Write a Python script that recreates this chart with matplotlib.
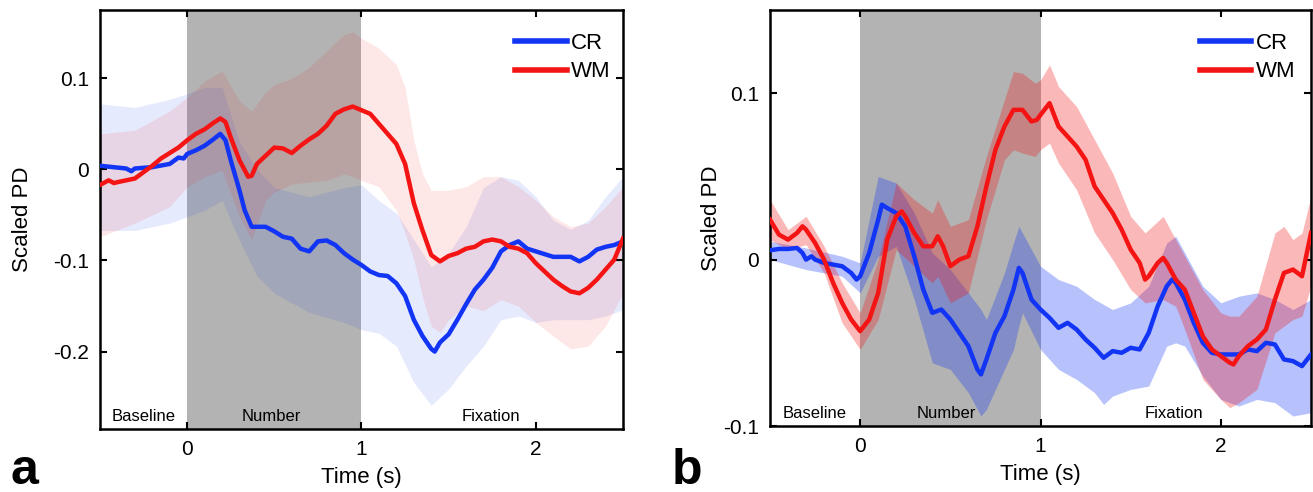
import matplotlib as mpl
mpl.use("Agg")
import matplotlib.pyplot as plt
import numpy as np

plt.rcParams['font.family'] = ['Liberation Sans', 'DejaVu Sans']

# ---------------- panel a ----------------
a_cr_t = [-0.5, -0.35, -0.32, -0.3, -0.2, -0.1, -0.05, -0.02, 0, 0.05, 0.1, 0.15, 0.19, 0.22, 0.25,
          0.3, 0.33, 0.37, 0.45, 0.5, 0.55, 0.6, 0.65, 0.7, 0.75, 0.8, 0.85, 0.9, 0.95, 1.0,
          1.05, 1.1, 1.15, 1.2, 1.25, 1.3, 1.35, 1.4, 1.42, 1.45, 1.5, 1.55, 1.6, 1.65, 1.7,
          1.75, 1.8, 1.85, 1.9, 1.95, 2.0, 2.1, 2.2, 2.25, 2.3, 2.35, 2.4, 2.45, 2.5]
a_cr_v = [0.004, 0.001, -0.002, 0.001, 0.0025, 0.006, 0.013, 0.012, 0.017, 0.021, 0.026, 0.033, 0.039, 0.032, 0.01,
          -0.023, -0.045, -0.063, -0.063, -0.068, -0.074, -0.076, -0.087, -0.09, -0.079, -0.078, -0.083, -0.092, -0.099, -0.105,
          -0.112, -0.116, -0.117, -0.125, -0.139, -0.165, -0.183, -0.197, -0.2, -0.19, -0.181, -0.165, -0.148, -0.132, -0.121,
          -0.108, -0.09, -0.083, -0.079, -0.087, -0.09, -0.096, -0.096, -0.101, -0.096, -0.088, -0.085, -0.083, -0.079]

a_wm_t = [-0.5, -0.45, -0.42, -0.4, -0.35, -0.3, -0.25, -0.2, -0.15, -0.1, -0.05, 0, 0.05, 0.1, 0.15,
          0.19, 0.22, 0.25, 0.3, 0.35, 0.37, 0.4, 0.45, 0.5, 0.55, 0.6, 0.65, 0.7, 0.75, 0.8,
          0.85, 0.9, 0.95, 1.0, 1.05, 1.1, 1.15, 1.2, 1.25, 1.3, 1.35, 1.4, 1.45, 1.5, 1.55,
          1.6, 1.65, 1.7, 1.75, 1.8, 1.85, 1.9, 1.95, 2.0, 2.05, 2.1, 2.15, 2.2, 2.25, 2.3,
          2.35, 2.4, 2.45, 2.5]
a_wm_v = [-0.017, -0.012, -0.015, -0.014, -0.012, -0.01, -0.003, 0.004, 0.012, 0.018, 0.024, 0.032, 0.039, 0.044, 0.051,
          0.056, 0.052, 0.035, 0.01, -0.008, -0.007, 0.006, 0.015, 0.024, 0.023, 0.018, 0.026, 0.033, 0.039, 0.048,
          0.061, 0.066, 0.069, 0.065, 0.061, 0.05, 0.039, 0.028, 0.006, -0.037, -0.067, -0.094, -0.101, -0.095, -0.092,
          -0.087, -0.085, -0.079, -0.077, -0.079, -0.085, -0.087, -0.092, -0.103, -0.112, -0.121, -0.128, -0.134, -0.136, -0.13,
          -0.121, -0.11, -0.099, -0.076]

a_cr_band_t = [-0.5, -0.3, -0.1, 0, 0.1, 0.2, 0.3, 0.4, 0.5, 0.7, 0.9, 1.0, 1.1, 1.2, 1.3,
               1.4, 1.5, 1.6, 1.7, 1.8, 1.9, 2.0, 2.1, 2.2, 2.3, 2.4, 2.5]
a_cr_hi = [0.072, 0.068, 0.077, 0.083, 0.09, 0.09, 0.03, 0.0, -0.02, -0.03, -0.02, -0.017, -0.034, -0.048, -0.077,
           -0.107, -0.092, -0.063, -0.02, -0.008, -0.012, -0.03, -0.056, -0.066, -0.056, -0.03, -0.008]
a_cr_lo = [-0.067, -0.067, -0.059, -0.052, -0.045, -0.034, -0.078, -0.117, -0.136, -0.157, -0.168, -0.176, -0.18, -0.194, -0.234,
           -0.259, -0.241, -0.216, -0.194, -0.165, -0.161, -0.168, -0.165, -0.165, -0.165, -0.161, -0.154]

a_wm_band_t = [-0.5, -0.3, -0.1, 0, 0.1, 0.2, 0.3, 0.37, 0.45, 0.5, 0.6, 0.7, 0.8, 0.9, 0.95,
               1.0, 1.1, 1.2, 1.25, 1.3, 1.35, 1.4, 1.45, 1.5, 1.6, 1.7, 1.8, 1.9, 2.0, 2.1,
               2.2, 2.3, 2.4, 2.5]
a_wm_hi = [0.039, 0.043, 0.064, 0.079, 0.097, 0.108, 0.075, 0.064, 0.085, 0.093, 0.1, 0.112, 0.13, 0.148, 0.151,
           0.144, 0.133, 0.115, 0.09, 0.032, -0.005, -0.023, -0.023, -0.023, -0.019, -0.008, -0.008, -0.019, -0.034, -0.052,
           -0.063, -0.059, -0.041, -0.019]
a_wm_lo = [-0.074, -0.059, -0.041, -0.019, -0.008, -0.001, -0.052, -0.077, -0.034, -0.025, -0.016, -0.014, -0.012, -0.005, -0.008,
           -0.012, -0.019, -0.045, -0.07, -0.099, -0.14, -0.172, -0.179, -0.165, -0.15, -0.155, -0.143, -0.15, -0.168, -0.183,
           -0.197, -0.194, -0.172, -0.136]

# ---------------- panel b ----------------
b_cr_t = [-0.5, -0.45, -0.4, -0.35, -0.32, -0.3, -0.27, -0.25, -0.2, -0.15, -0.1, -0.05, -0.02, 0, 0.05,
          0.1, 0.12, 0.15, 0.2, 0.25, 0.3, 0.35, 0.4, 0.45, 0.5, 0.55, 0.6, 0.65, 0.67, 0.7,
          0.75, 0.8, 0.85, 0.88, 0.9, 0.95, 1.0, 1.05, 1.1, 1.15, 1.2, 1.25, 1.3, 1.35, 1.4,
          1.45, 1.5, 1.55, 1.6, 1.65, 1.7, 1.73, 1.75, 1.8, 1.85, 1.9, 1.95, 2.0, 2.05, 2.1,
          2.15, 2.2, 2.25, 2.3, 2.35, 2.4, 2.45, 2.5]
b_cr_v = [0.0056, 0.0064, 0.0064, 0.007, 0.004, 0.0, 0.002, 0.0, -0.002, -0.003, -0.004, -0.008, -0.012, -0.01, 0.004,
          0.024, 0.033, 0.031, 0.028, 0.02, 0.002, -0.018, -0.032, -0.03, -0.036, -0.044, -0.052, -0.066, -0.069, -0.06,
          -0.044, -0.034, -0.018, -0.005, -0.008, -0.024, -0.03, -0.035, -0.041, -0.038, -0.042, -0.048, -0.053, -0.059, -0.055,
          -0.056, -0.053, -0.054, -0.044, -0.028, -0.016, -0.012, -0.014, -0.024, -0.038, -0.05, -0.056, -0.057, -0.057, -0.057,
          -0.054, -0.055, -0.05, -0.051, -0.06, -0.061, -0.064, -0.057]

b_wm_t = [-0.5, -0.45, -0.4, -0.35, -0.32, -0.3, -0.25, -0.2, -0.15, -0.1, -0.05, 0, 0.05, 0.1, 0.15,
          0.2, 0.23, 0.25, 0.3, 0.35, 0.4, 0.43, 0.46, 0.5, 0.55, 0.6, 0.65, 0.7, 0.75, 0.8,
          0.85, 0.9, 0.95, 0.98, 1.0, 1.05, 1.1, 1.15, 1.2, 1.25, 1.3, 1.35, 1.4, 1.45, 1.5,
          1.55, 1.58, 1.6, 1.65, 1.68, 1.7, 1.75, 1.8, 1.85, 1.9, 1.95, 2.0, 2.05, 2.07, 2.1,
          2.15, 2.2, 2.25, 2.3, 2.35, 2.4, 2.45, 2.5]
b_wm_v = [0.024, 0.015, 0.012, 0.016, 0.02, 0.018, 0.01, 0.0, -0.014, -0.026, -0.036, -0.043, -0.036, -0.02, 0.012,
          0.026, 0.029, 0.026, 0.016, 0.008, 0.008, 0.014, 0.008, -0.004, 0.0, 0.002, 0.02, 0.044, 0.066, 0.08,
          0.09, 0.09, 0.083, 0.084, 0.087, 0.094, 0.08, 0.074, 0.068, 0.06, 0.044, 0.036, 0.028, 0.018, 0.006,
          -0.002, -0.012, -0.01, -0.002, 0.001, -0.002, -0.012, -0.018, -0.032, -0.046, -0.054, -0.058, -0.062, -0.063, -0.058,
          -0.052, -0.048, -0.042, -0.024, -0.008, -0.006, -0.01, 0.016]

b_cr_band_t = [-0.5, -0.3, -0.1, 0, 0.1, 0.2, 0.3, 0.4, 0.5, 0.6, 0.67, 0.7, 0.75, 0.8, 0.85,
               0.88, 0.9, 1.0, 1.1, 1.2, 1.3, 1.35, 1.4, 1.5, 1.6, 1.7, 1.75, 1.8, 1.9, 2.0,
               2.1, 2.2, 2.3, 2.4, 2.5]
b_cr_hi = [0.011, 0.007, 0.002, -0.002, 0.05, 0.046, 0.028, 0.004, -0.006, -0.02, -0.03, -0.036, -0.022, -0.008, 0.01,
           0.02, 0.016, -0.004, -0.012, -0.016, -0.024, -0.027, -0.03, -0.026, -0.016, 0.01, 0.014, 0.004, -0.016, -0.026,
           -0.022, -0.02, -0.024, -0.03, -0.024]
b_cr_lo = [0.0, -0.006, -0.01, -0.02, 0.002, 0.008, -0.024, -0.062, -0.066, -0.08, -0.094, -0.09, -0.078, -0.066, -0.054,
           -0.04, -0.032, -0.054, -0.066, -0.072, -0.08, -0.087, -0.082, -0.078, -0.076, -0.052, -0.05, -0.052, -0.07, -0.084,
           -0.088, -0.084, -0.086, -0.094, -0.092]

b_wm_band_t = [-0.5, -0.4, -0.3, -0.2, -0.1, 0, 0.1, 0.2, 0.3, 0.4, 0.43, 0.5, 0.6, 0.7, 0.8,
               0.85, 0.9, 0.97, 1.0, 1.05, 1.1, 1.2, 1.3, 1.4, 1.5, 1.58, 1.68, 1.75, 1.8, 1.9,
               2.0, 2.05, 2.1, 2.2, 2.3, 2.35, 2.4, 2.45, 2.5]
b_wm_hi = [0.036, 0.018, 0.026, 0.008, -0.014, -0.032, 0.0, 0.046, 0.036, 0.028, 0.036, 0.02, 0.024, 0.062, 0.096,
           0.113, 0.112, 0.106, 0.108, 0.117, 0.104, 0.092, 0.072, 0.052, 0.026, 0.016, 0.026, 0.012, 0.002, -0.018,
           -0.032, -0.034, -0.034, -0.022, 0.016, 0.02, 0.012, 0.016, 0.038]
b_wm_lo = [0.012, 0.006, 0.009, -0.008, -0.038, -0.054, -0.036, 0.006, -0.004, -0.014, -0.01, -0.026, -0.02, 0.024, 0.06,
           0.066, 0.064, 0.062, 0.066, 0.07, 0.058, 0.042, 0.016, 0.0, -0.018, -0.026, -0.024, -0.028, -0.042, -0.072,
           -0.084, -0.089, -0.086, -0.078, -0.044, -0.04, -0.036, -0.034, -0.016]

epochs = ["Baseline", "Number", "Fixation"]
epoch_x = [-0.25, 0.48, 1.74]

blue = "#1234f5"
red = "#f51414"

fig = plt.figure(figsize=(13.13, 4.92), dpi=100)
ax_a = fig.add_axes([100 / 1313, 1 - 429 / 492, 523 / 1313, 419 / 492])
ax_b = fig.add_axes([770 / 1313, 1 - 426 / 492, 541 / 1313, 416 / 492])


def draw_panel(ax, cr, wm, alpha, ylim, yticks, ylab_x, leg_anchor):
    ax.axvspan(0, 1, color="#b3b3b3", lw=0, zorder=0)
    ax.fill_between(cr[2], cr[3], cr[4], color=blue, alpha=alpha, lw=0, zorder=1)
    ax.fill_between(wm[2], wm[3], wm[4], color=red, alpha=alpha, lw=0, zorder=1)
    ax.plot(cr[0], cr[1], color=blue, lw=3.2, label="CR", zorder=3)
    ax.plot(wm[0], wm[1], color=red, lw=3.2, label="WM", zorder=3)
    ax.set_xlim(-0.5, 2.5)
    ax.set_ylim(*ylim)
    ax.set_xticks([0, 1, 2])
    ax.set_xticklabels(["0", "1", "2"])
    ax.set_yticks(yticks)
    ax.set_yticklabels([("%g" % v).replace("\u2212", "-") for v in yticks])
    ax.tick_params(direction="in", length=5, width=1.5, top=True, right=True,
                   labelsize=15, pad=8, colors="black")
    for s in ax.spines.values():
        s.set_linewidth(1.8)
    ax.set_xlabel("Time (s)", fontsize=16, labelpad=6)
    ax.set_ylabel("Scaled PD", fontsize=16)
    ax.yaxis.set_label_coords(ylab_x, 0.5)
    for name, x in zip(epochs, epoch_x):
        ax.text(x, ylim[0] + 0.012 * (ylim[1] - ylim[0]), name, ha="center", va="bottom", fontsize=12)
    leg = ax.legend(loc="upper right", bbox_to_anchor=leg_anchor, frameon=False, fontsize=16,
                    handlelength=2.3, handletextpad=0.2, labelspacing=0.35, borderaxespad=0.3)
    for h in leg.get_lines():
        h.set_linewidth(4)


draw_panel(ax_a, (a_cr_t, a_cr_v, a_cr_band_t, a_cr_lo, a_cr_hi),
           (a_wm_t, a_wm_v, a_wm_band_t, a_wm_lo, a_wm_hi), 0.1, (-0.285, 0.175), [0.1, 0, -0.1, -0.2],
           -0.128, (1.006, 0.983))
draw_panel(ax_b, (b_cr_t, b_cr_v, b_cr_band_t, b_cr_lo, b_cr_hi),
           (b_wm_t, b_wm_v, b_wm_band_t, b_wm_lo, b_wm_hi), 0.3, (-0.1, 0.15), [0.1, 0, -0.1],
           -0.089, (1.0, 0.983))

fig.text(10 / 1313, 1 - 484 / 492, "a", fontsize=36, fontweight="bold", ha="left", va="baseline")
fig.text(672 / 1313, 1 - 484 / 492, "b", fontsize=36, fontweight="bold", ha="left", va="baseline")

fig.savefig("out.png", dpi=100)
